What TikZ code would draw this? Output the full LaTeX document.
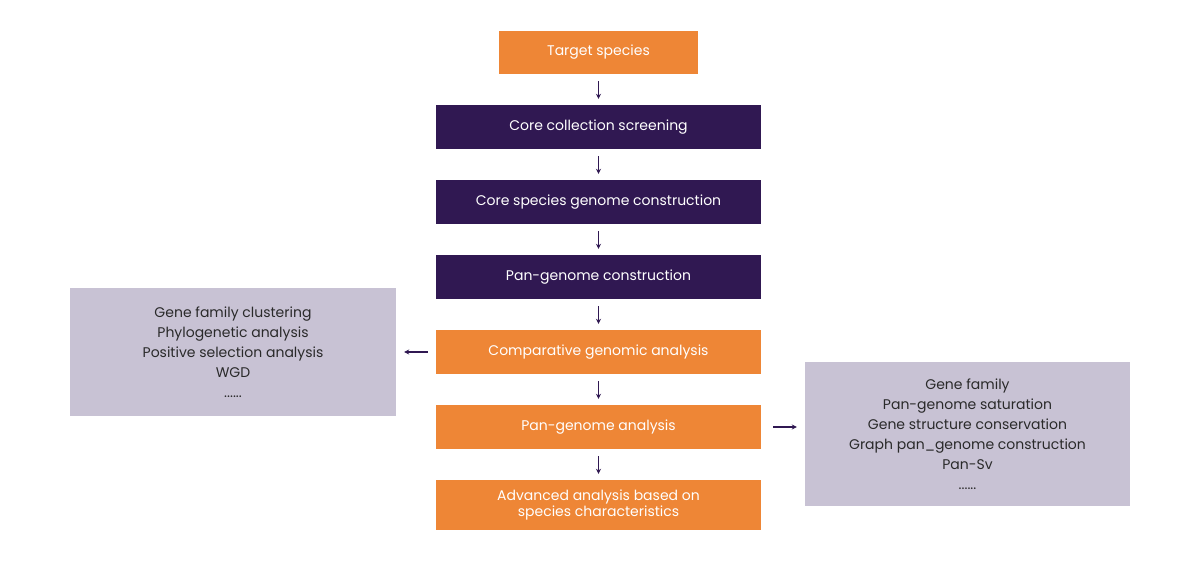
\documentclass[tikz,border=0pt]{standalone}
\usepackage{fontspec}
\setmainfont{Poppins}
\usetikzlibrary{arrows.meta}
\definecolor{org}{HTML}{EE8636}
\definecolor{dpur}{HTML}{301852}
\definecolor{gbox}{HTML}{C8C2D4}
\definecolor{txt}{HTML}{2A2A2A}
\begin{document}
\begin{tikzpicture}[x=1pt,y=-1pt,
  obox/.style={fill=org,text=white,inner sep=0pt,align=center,font=\fontsize{14}{16}\selectfont},
  pbox/.style={fill=dpur,text=white,inner sep=0pt,align=center,font=\fontsize{14}{16}\selectfont},
  gb/.style={fill=gbox,text=txt,inner sep=0pt,align=center,font=\fontsize{14}{20}\selectfont},
  arr/.style={draw=dpur,line width=1.2pt,-{Stealth[length=5pt,width=5pt]}}]
\useasboundingbox (0,0) rectangle (1200,573);
\node[obox,minimum width=199pt,minimum height=43pt] (t) at (598.5,52.5) {Target species};
\node[pbox,minimum width=325pt,minimum height=44pt] (c1) at (598.5,127) {Core collection screening};
\node[pbox,minimum width=325pt,minimum height=44pt] (c2) at (598.5,202) {Core species genome construction};
\node[pbox,minimum width=325pt,minimum height=44pt] (c3) at (598.5,277) {Pan-genome construction};
\node[obox,minimum width=325pt,minimum height=44pt] (c4) at (598.5,352) {Comparative genomic analysis};
\node[obox,minimum width=325pt,minimum height=44pt] (c5) at (598.5,427) {Pan-genome analysis};
\node[obox,minimum width=325pt,minimum height=50pt] (c6) at (598.5,505) {Advanced analysis based on\\species characteristics};
\node[gb,minimum width=326pt,minimum height=128pt] (l) at (233,352) {Gene family clustering\\Phylogenetic analysis\\Positive selection analysis\\WGD\\......};
\node[gb,minimum width=325pt,minimum height=144pt] (r) at (967.5,434) {Gene family\\Pan-genome saturation\\Gene structure conservation\\Graph pan\_genome construction\\Pan-Sv\\......};
\foreach \a/\b in {t/c1,c1/c2,c2/c3,c3/c4,c4/c5,c5/c6}
  \draw[arr] ([yshift=-7pt]\a.south) -- ([yshift=6pt]\b.north);
\draw[arr] ([xshift=-8pt]c4.west) -- ([xshift=8pt]l.east |- c4.west);
\coordinate (rs) at ([xshift=12pt]c5.east);
\draw[arr] (rs) -- ([xshift=-8pt]r.west |- rs);
\end{tikzpicture}
\end{document}
